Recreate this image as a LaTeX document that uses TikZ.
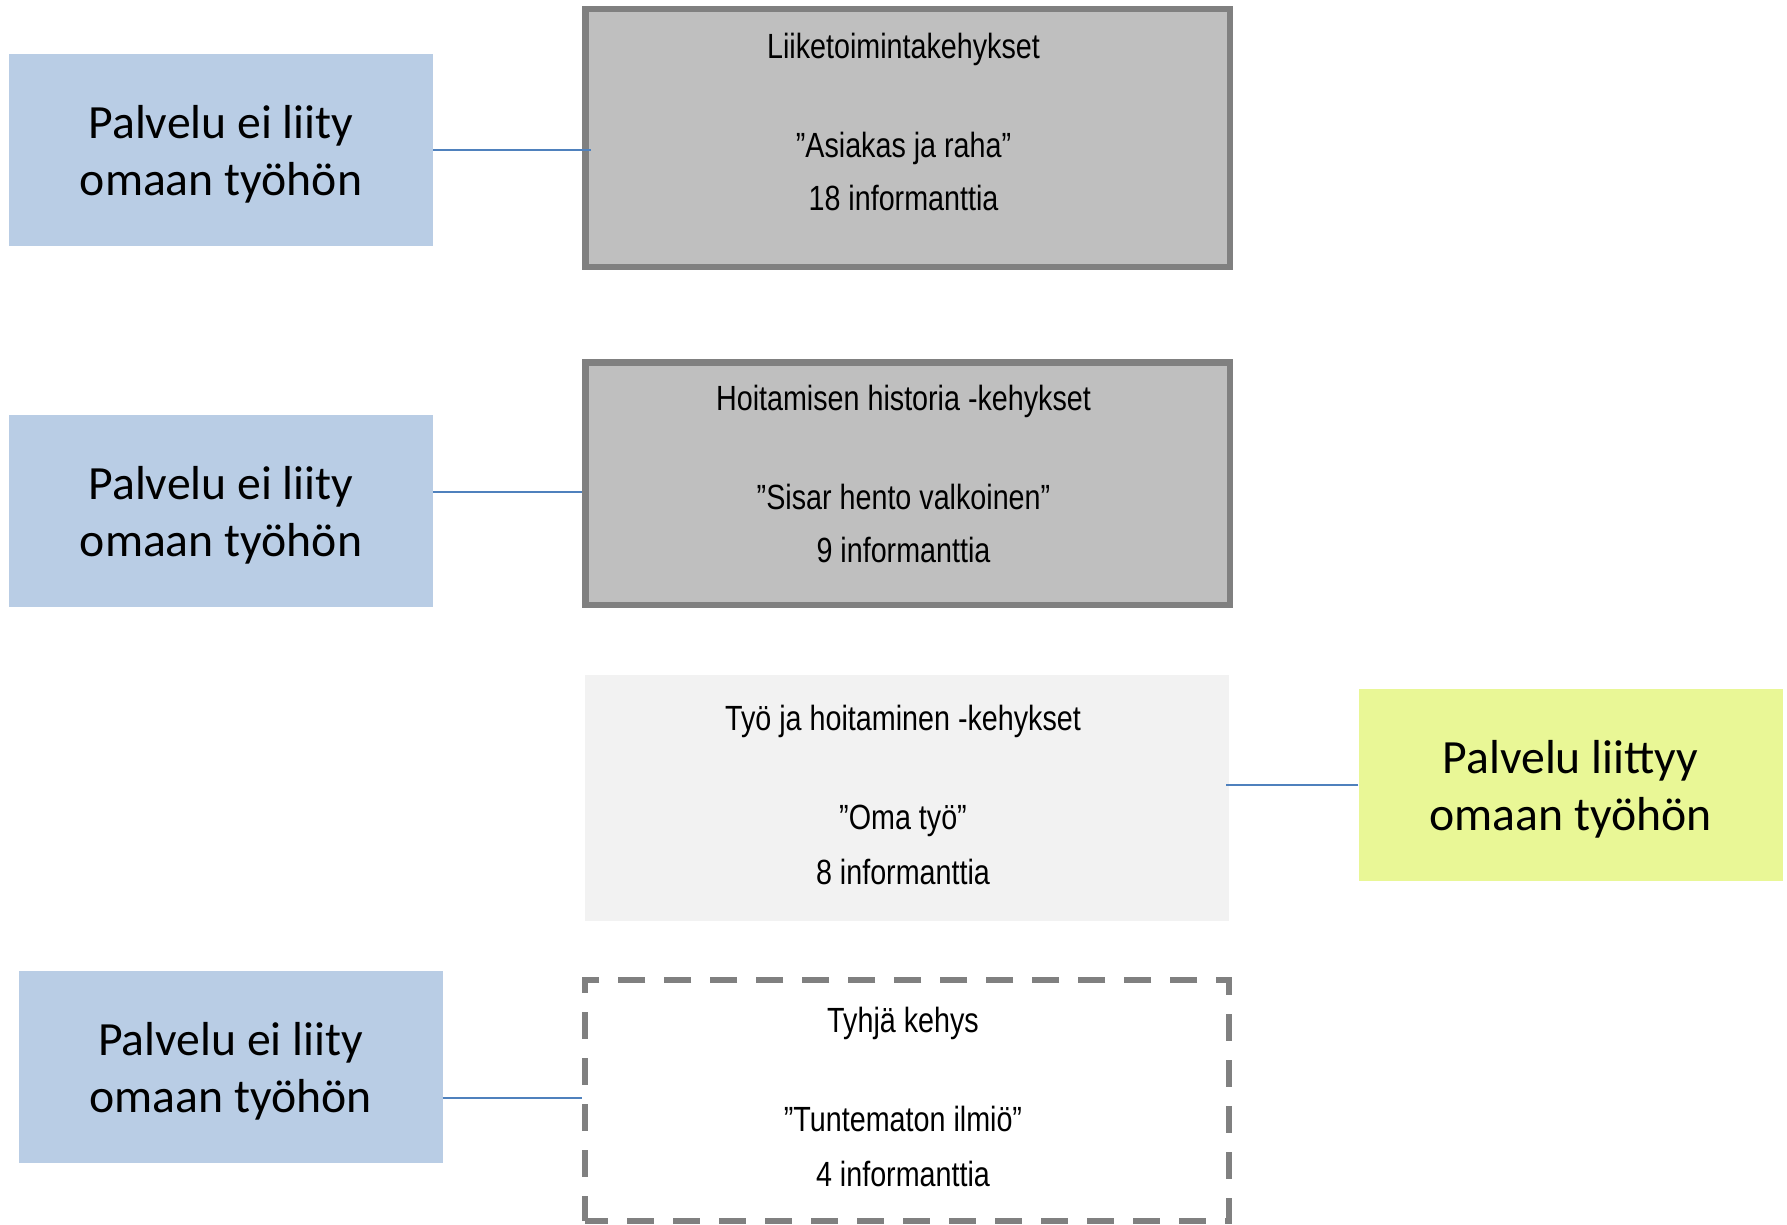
\documentclass[tikz,border=0pt]{standalone}
\usepackage{fontspec}
\setmainfont{Carlito}
\newfontfamily\narrowfont[FakeStretch=0.82]{Liberation Sans}
\definecolor{palblue}{RGB}{185,205,229}
\definecolor{palgreen}{RGB}{233,247,150}
\definecolor{framegray}{RGB}{191,191,191}
\definecolor{framedraw}{RGB}{128,128,128}
\definecolor{framelight}{RGB}{242,242,242}
\definecolor{linkblue}{RGB}{79,129,189}

\begin{document}
\begin{tikzpicture}[x=1pt,y=-1pt,
                    palvelu/.style={fill=palblue,minimum width=424pt,minimum height=192pt,inner sep=0pt},
                    ptext/.style={align=center,inner sep=0pt,font=\fontsize{47.7}{57}\selectfont},
                    frame/.style={fill=framegray,draw=framedraw,line width=6.5pt,minimum width=644.5pt,
                                  minimum height=242.5pt,inner sep=0pt},
                    ftext/.style={anchor=north,align=center,inner sep=0pt,
                                  font=\narrowfont\fontsize{35}{53}\selectfont},
                    link/.style={draw=linkblue,line width=2pt}]
                    \useasboundingbox (0,0) rectangle (1787,1225);
                    \node[frame,minimum height=257.5pt] (f1) at (907.5,138) {};
                    \node[frame] (f2) at (907.5,483.5) {};
                    \node[frame,draw=none,fill=framelight,minimum width=644pt,minimum height=246pt] (f3) at (907,798) {};
                    \node[frame,fill=none,line width=6pt,dash pattern=on 27pt off 19pt,dash phase=4pt,
                          minimum width=643.5pt,minimum height=241pt] (f4) at (907,1100.5) {};
                    \node[ftext] (t1) at ([xshift=-4pt,yshift=-26.5pt]f1.north) {Liiketoimintakehykset\\[46pt]”Asiakas ja raha”\\18 informanttia};
                    \node[ftext] (t2) at ([xshift=-4pt,yshift=-25.5pt]f2.north) {Hoitamisen historia -kehykset\\[46pt]”Sisar hento valkoinen”\\9 informanttia};
                    \node[ftext] (t3) at ([xshift=-4pt,yshift=-33pt]f3.north) {Työ ja hoitaminen -kehykset\\[46pt]”Oma työ”\\[2pt]8 informanttia};
                    \node[ftext] (t4) at ([xshift=-4pt,yshift=-30pt]f4.north) {Tyhjä kehys\\[46pt]”Tuntematon ilmiö”\\[2pt]4 informanttia};
                    \node[palvelu] (p1) at (221,150) {};
                    \node[palvelu] (p2) at (221,510.5) {};
                    \node[palvelu] (p3) at (230.5,1067) {};
                    \node[palvelu,fill=palgreen] (g1) at (1570.5,784.75) {};
                    \node[ptext] (p1t) at ([yshift=-4.5pt]p1.center) {Palvelu ei liity\\omaan työhön};
                    \node[ptext] (p2t) at ([yshift=-4.5pt]p2.center) {Palvelu ei liity\\omaan työhön};
                    \node[ptext] (p3t) at ([yshift=-4.5pt]p3.center) {Palvelu ei liity\\omaan työhön};
                    \node[ptext] (g1t) at ([yshift=-4.5pt]g1.center) {Palvelu liittyy\\omaan työhön};
                    \draw[link] (p1.east) -- ([xshift=9pt]p1.east -| f1.west);
                    \draw[link] ([yshift=18.5pt]p2.east) -- ([yshift=18.5pt]p2.east -| f2.west);
                    \draw[link] (g1.west) -- ([xshift=-6pt]g1.west -| f3.east);
                    \draw[link] ([yshift=-30.5pt]p3.east) -- ([yshift=-30.5pt]p3.east -| f4.west);
                \end{tikzpicture}
\end{document}
